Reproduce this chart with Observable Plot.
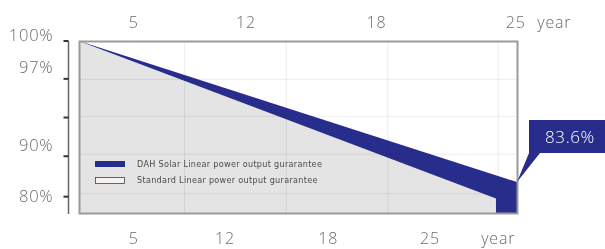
<!DOCTYPE html>
<html>
<head>
<meta charset="utf-8">
<script src="https://cdn.jsdelivr.net/npm/d3@7"></script>
<script src="https://cdn.jsdelivr.net/npm/@observablehq/plot@0.6"></script>
<style>
  html, body { margin: 0; padding: 0; background: #fff; }
  #chart svg { display: block; }
</style>
</head>
<body>
<div id="chart"></div>
<script>
// ---- data ----
const dahYears = [0, 25];
const dahOutput = [100, 83.6];             // DAH Solar linear guarantee (%)
const stdYears = [0, 23.8];
const stdOutput = [100, 81.7];             // standard linear guarantee (%)
const finalLabel = "83.6%";

const topTickYears = [3.1, 9.5, 16.95, 24.9, 27.1];
const topTickLabels = ["5", "12", "18", "25", "year"];
const bottomTickYears = [3.1, 8.3, 14.2, 20.0, 23.9];
const bottomTickLabels = ["5", "12", "18", "25", "year"];

const yTickValues = [100, 95.6, 91.1, 86.6, 81.9];        // tick marks on the left axis
const yLabelValues = [100.7, 97.0, 87.9, 81.9];
const yLabels = ["100%", "97%", "90%", "80%"];

const gridYears = [6.0, 11.8, 17.6, 23.9];
const gridValues = [95.6, 91.3, 86.9, 82.3];

const legendItems = ["DAH Solar Linear power output gurarantee", "Standard Linear power output gurarantee"];

// ---- styles ----
const BLUE = "#282d8c";
const GRAY = "#e4e4e4";
const LABEL = "#6b6b6b";

const dah = dahYears.map((x, i) => ({x, y: dahOutput[i]}));
const std = stdYears.map((x, i) => ({x, y: stdOutput[i]}));

function leftAxis(index, scales, values, dim) {
  const g = d3.create("svg:g");
  const x0 = dim.marginLeft - 10.5;
  g.append("line")
    .attr("x1", x0).attr("x2", x0)
    .attr("y1", dim.marginTop).attr("y2", dim.height - dim.marginBottom + 1)
    .attr("stroke", "#666").attr("stroke-width", 1.5);
  for (const t of yTickValues) {
    g.append("line")
      .attr("x1", x0 - 5).attr("x2", x0)
      .attr("y1", scales.y(t)).attr("y2", scales.y(t))
      .attr("stroke", "#333").attr("stroke-width", 2);
  }
  return g.node();
}

function legend(index, scales, values, dim) {
  const g = d3.create("svg:g");
  const left = dim.marginLeft + 16;
  const base = dim.height - dim.marginBottom;
  g.append("rect").attr("x", left).attr("y", base - 52).attr("width", 30).attr("height", 6).attr("fill", BLUE);
  g.append("rect").attr("x", left + 0.5).attr("y", base - 35.5).attr("width", 29).attr("height", 6)
    .attr("fill", "#f5f1ef").attr("stroke", "#444").attr("stroke-width", 0.8);
  legendItems.forEach((t, i) => {
    g.append("text").attr("x", left + 42).attr("y", base - 49 + i * 16.5)
      .attr("dy", "0.35em")
      .attr("text-anchor", "start")
      .attr("font-family", "DejaVu Sans, sans-serif")
      .attr("font-size", 8.1)
      .attr("letter-spacing", 0.3)
      .attr("fill", "#4a4a4a")
      .text(t);
  });
  return g.node();
}

function callout(index, scales, values, dim) {
  const g = d3.create("svg:g");
  const ax = scales.x(dahYears[dahYears.length - 1]);
  const ay = scales.y(dahOutput[dahOutput.length - 1]);
  const l = ax + 12, r = ax + 95, t = ay - 62, b = ay - 29;
  g.append("path")
    .attr("d", `M${ax},${ay}L${l},${b}L${l},${t}L${r},${t}L${r},${b}L${ax + 23},${b}Z`)
    .attr("fill", BLUE);
  g.append("text")
    .attr("x", ax + 53).attr("y", ay - 45).attr("dy", "0.35em")
    .attr("text-anchor", "middle")
    .attr("font-family", "Open Sans, sans-serif")
    .attr("font-weight", 300)
    .attr("font-size", 17)
    .attr("letter-spacing", 0.6)
    .attr("fill", "#fff")
    .text(finalLabel);
  return g.node();
}

const chart = Plot.plot({
  width: 605,
  height: 249,
  marginLeft: 79,
  marginRight: 88,
  marginTop: 41,
  marginBottom: 36,
  x: {domain: [0, 25], axis: null},
  y: {domain: [80, 100], axis: null},
  style: {fontFamily: "Open Sans, sans-serif", background: "#fff", overflow: "visible"},
  marks: [
    Plot.areaY(dah, {x: "x", y1: 80, y2: "y", fill: BLUE}),
    Plot.areaY(std, {x: "x", y1: 80, y2: "y", fill: GRAY}),
    Plot.ruleX(gridYears, {stroke: "#ececec", strokeWidth: 1, mixBlendMode: "multiply"}),
    Plot.ruleY(gridValues, {stroke: "#ececec", strokeWidth: 1, mixBlendMode: "multiply"}),
    Plot.frame({stroke: "#9a9a9a", strokeWidth: 2}),
    leftAxis,
    legend,
    callout,
    Plot.text(topTickYears, {x: d => d, text: (d, i) => topTickLabels[i], frameAnchor: "top", lineAnchor: "middle", dy: -19,
      fontSize: 16, fontWeight: 300, fill: LABEL}),
    Plot.text(bottomTickYears, {x: d => d, text: (d, i) => bottomTickLabels[i], frameAnchor: "bottom", lineAnchor: "middle", dy: 25,
      fontSize: 16, fontWeight: 300, fill: LABEL}),
    Plot.text(yLabelValues, {y: d => d, text: (d, i) => yLabels[i], frameAnchor: "left", dx: -26,
      textAnchor: "end", fontSize: 16.5, fontWeight: 300, fill: LABEL})
  ]
});
chart.querySelectorAll("g[aria-label='text'] text").forEach(t => t.setAttribute("letter-spacing", "0.8"));
document.getElementById("chart").append(chart);
</script>
</body>
</html>
